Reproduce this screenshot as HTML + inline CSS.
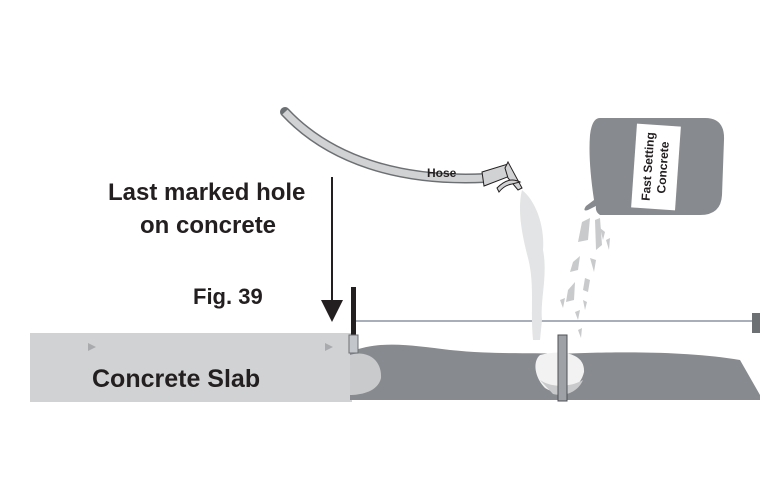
<!DOCTYPE html>
<html><head><style>
body{margin:0;background:#fff;}
svg{display:block;}
text{font-family:"Liberation Sans",sans-serif;font-weight:bold;fill:#231f20;}
</style></head><body>
<svg width="760" height="500" viewBox="0 0 760 500">
<rect x="30" y="333" width="322" height="69" fill="#d1d2d3"/>
<polygon points="88,343 96,347 88,351" fill="#a8aaad"/>
<polygon points="325,343 333,347 325,351" fill="#a8aaad"/>
<text x="92" y="387" font-size="25">Concrete Slab</text>
<path d="M350,400 L350,352 C380,340 410,345 450,350 C500,355 530,352 560,354 C600,352 680,350 740,360 L760,395 L760,400 Z" fill="#878a8e"/>
<path d="M350,355 C365,350 382,358 381,378 C378,392 360,395 350,395 Z" fill="#c9cacc"/>
<path d="M540,355 C560,350 585,352 584,372 C580,390 560,398 545,388 C535,378 532,362 540,355 Z" fill="#f2f2f2"/>
<path d="M540,380 C555,390 575,385 583,380 C578,392 565,397 553,394 Z" fill="#c9cacc"/>
<line x1="356" y1="321" x2="755" y2="321" stroke="#a9afb8" stroke-width="2"/>
<rect x="752" y="313" width="8" height="20" fill="#6d7073"/>
<rect x="351" y="287" width="5" height="48" fill="#231f20"/>
<rect x="349" y="335" width="9" height="18" fill="#c3c7cc" stroke="#6d7073" stroke-width="1"/>
<rect x="558" y="335" width="9" height="66" fill="#9ea2a6" stroke="#4d5054" stroke-width="1"/>
<line x1="332" y1="177" x2="332" y2="305" stroke="#231f20" stroke-width="2"/>
<polygon points="321,300 343,300 332,322" fill="#231f20"/>
<text x="108" y="200" font-size="24">Last marked hole</text>
<text x="140" y="233" font-size="24">on concrete</text>
<text x="193" y="304" font-size="22">Fig. 39</text>
<path d="M285,112 C330,160 400,182 485,178" fill="none" stroke="#6d7073" stroke-width="10" stroke-linecap="round"/>
<path d="M285,112 C330,160 400,182 485,178" fill="none" stroke="#d1d2d3" stroke-width="7"/>
<text x="427" y="177" font-size="12">Hose</text>
<path d="M482,172 L508,164 L510,176 L484,186 Z" fill="#d1d2d3" stroke="#231f20" stroke-width="1"/>
<path d="M505,168 L508,162 L522,188 L518,190 L508,178 Z" fill="#d1d2d3" stroke="#231f20" stroke-width="1"/>
<path d="M497,188 C505,180 512,178 520,182 L512,184 C506,185 502,188 499,192 Z" fill="#d1d2d3" stroke="#231f20" stroke-width="1"/>
<path d="M522,190 C535,200 545,225 543,250 C548,275 540,300 542,320 L540,340 L533,340 C530,310 535,285 528,258 C522,235 517,210 522,190 Z" fill="#e3e4e5"/>
<path d="M600,118 L705,118 Q725,118 724,140 L722,195 Q721,215 700,215 L600,215 Q595,212 596,206 L588,210 Q582,212 586,206 L594,200 Q588,160 590,135 Q592,118 600,118 Z" fill="#878a8e"/>
<g transform="translate(656,167) rotate(-86)">
<rect x="-42" y="-22" width="84" height="44" fill="#fff"/>
<text x="0" y="-4" font-size="12" text-anchor="middle">Fast Setting</text>
<text x="0" y="11" font-size="12" text-anchor="middle">Concrete</text>
</g>
<g fill="#c9cacc">
<polygon points="582,222 590,218 588,240 578,242"/>
<polygon points="595,220 600,218 602,245 596,250"/>
<polygon points="573,262 580,256 578,270 570,272"/>
<polygon points="590,258 596,260 594,272"/>
<polygon points="568,290 575,282 574,300 566,302"/>
<polygon points="585,278 590,280 588,292 583,290"/>
<polygon points="575,312 580,310 578,320"/>
<polygon points="560,300 565,298 563,308"/>
<polygon points="578,330 582,328 581,338"/>
<polygon points="600,228 605,232 603,240"/>
<polygon points="606,240 610,238 609,250"/>
<polygon points="583,300 587,302 585,310"/>
</g>
</svg>
</body></html>
